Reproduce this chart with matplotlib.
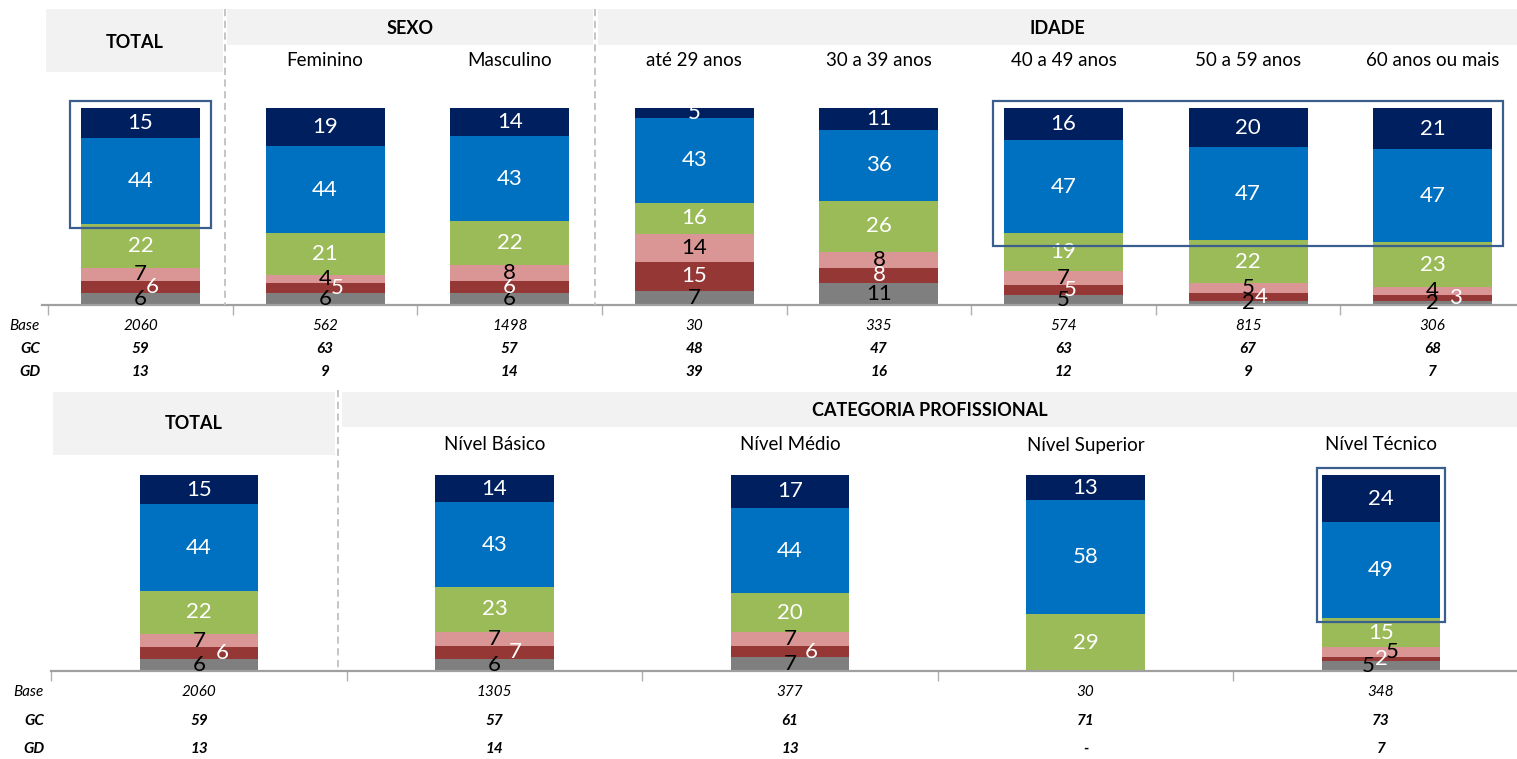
import numpy as np
import matplotlib.pyplot as plt
from matplotlib.patches import Rectangle
from matplotlib import transforms

plt.rcParams['font.family'] = ['Lato', 'DejaVu Sans']

W, H = 1517, 759

# painel de cima: total, sexo e idade
grupos_cima = ['', 'Feminino', 'Masculino', 'até 29 anos', '30 a 39 anos',
               '40 a 49 anos', '50 a 59 anos', '60 anos ou mais']
cinza_cima = [6, 6, 6, 7, 11, 5, 2, 2]
vermelho_cima = [6, 5, 6, 15, 8, 5, 4, 3]
rosa_cima = [7, 4, 8, 14, 8, 7, 5, 4]
verde_cima = [22, 21, 22, 16, 26, 19, 22, 23]
azul_cima = [44, 44, 43, 43, 36, 47, 47, 47]
marinho_cima = [15, 19, 14, 5, 11, 16, 20, 21]
base_cima = ['2060', '562', '1498', '30', '335', '574', '815', '306']
gc_cima = ['59', '63', '57', '48', '47', '63', '67', '68']
gd_cima = ['13', '9', '14', '39', '16', '12', '9', '7']

# painel de baixo: categoria profissional
grupos_baixo = ['', 'Nível Básico', 'Nível Médio', 'Nível Superior', 'Nível Técnico']
cinza_baixo = [6, 6, 7, 0, 5]
vermelho_baixo = [6, 7, 6, 0, 2]
rosa_baixo = [7, 7, 7, 0, 5]
verde_baixo = [22, 23, 20, 29, 15]
azul_baixo = [44, 43, 44, 58, 49]
marinho_baixo = [15, 14, 17, 13, 24]
base_baixo = ['2060', '1305', '377', '30', '348']
gc_baixo = ['59', '57', '61', '71', '73']
gd_baixo = ['13', '14', '13', '-', '7']

cores = ['#7F7F7F', '#953735', '#D99694', '#9BBB59', '#0070C0', '#001F5F']
cor_texto = ['black', 'white', 'black', 'white', 'white', 'white']

# deslocamentos (px) dos rotulos pequenos, como no original
ajuste_cima = {(0, 1): 12, (1, 1): 12, (5, 1): 7, (6, 1): 13, (7, 1): 23}
ajuste_baixo = {(0, 1): 23, (1, 1): 21, (2, 1): 21, (4, 0): -13, (4, 2): 11}

fig = plt.figure(figsize=(W / 100, H / 100), dpi=100)


def fx(px):
    return px / W


def fy(py):
    return 1 - py / H


def painel(esq, dir_, baixo, topo, centro0, passo):
    ax = fig.add_axes([fx(esq), fy(baixo), (dir_ - esq) / W, (baixo - topo) / H])
    ax.set_xlim((esq - centro0) / passo, (dir_ - centro0) / passo)
    ax.set_ylim(0, 100)
    for s in ['left', 'right', 'top']:
        ax.spines[s].set_visible(False)
    ax.spines['bottom'].set_color('#A0A0A0')
    ax.spines['bottom'].set_linewidth(1.6)
    ax.set_yticks([])
    ax.patch.set_alpha(0)
    return ax


def barras(ax, series, largura, ajustes):
    lim = ax.get_xlim()
    series = np.array(series, dtype=float)
    alt = series / series.sum(axis=0) * 100
    x = np.arange(series.shape[1])
    fundo = np.zeros(len(x))
    for k in range(len(series)):
        ax.bar(x, alt[k], largura, bottom=fundo, color=cores[k], edgecolor='none')
        for i in x:
            if series[k, i] == 0:
                continue
            tr = transforms.offset_copy(ax.transData, fig=fig, x=ajustes.get((i, k), 0), y=0, units='dots')
            ax.text(i, fundo[i] + alt[k, i] / 2, f'{series[k, i]:.0f}', transform=tr,
                    ha='center', va='center', color=cor_texto[k], fontsize=16,
                    clip_on=(k == 5))
        fundo += alt[k]
    ax.set_xticks(np.arange(-0.5, len(x) + 1, 1))
    ax.set_xticklabels([])
    ax.tick_params(axis='x', length=7, color='#B0B0B0', width=1)
    ax.set_xlim(lim)
    ax.set_ylim(0, 100)
    return x, fundo - alt[-1] - alt[-2]


def linhas(ax, x, grupos, base, gc, gd, y_grupo, y_base, y_gc, y_gd):
    tr = transforms.blended_transform_factory(ax.transData, fig.transFigure)
    for i in x:
        ax.text(i, fy(y_grupo), grupos[i], transform=tr, ha='center', va='center', fontsize=13.5)
        ax.text(i, fy(y_base), base[i], transform=tr, ha='center', va='center', fontsize=11, style='italic')
        ax.text(i, fy(y_gc), gc[i], transform=tr, ha='center', va='center', fontsize=11,
                style='italic', weight='bold')
        ax.text(i, fy(y_gd), gd[i], transform=tr, ha='center', va='center', fontsize=11,
                style='italic', weight='bold')


def caixa_cinza(x0, x1, y0, y1, titulo, ty):
    fig.patches.append(Rectangle((fx(x0), fy(y1)), (x1 - x0) / W, (y1 - y0) / H,
                                 transform=fig.transFigure, facecolor='#F2F2F2', edgecolor='none', zorder=0))
    fig.text(fx((x0 + x1) / 2), fy(ty), titulo, ha='center', va='center', fontsize=13, weight='bold')


def tracejado(x, y0, y1):
    fig.add_artist(plt.Line2D([fx(x), fx(x)], [fy(y0), fy(y1)], transform=fig.transFigure,
                              color='#C0C0C0', lw=1.3, linestyle=(0, (4, 2.5))))


def destaque(ax, i0, i1, baixo, largura, pad):
    p = pad
    r = Rectangle((i0 - largura / 2 - p, baixo - 2), (i1 - i0) + largura + 2 * p, 103.5 - baixo + 2,
                  facecolor='none', edgecolor='#3A5F8F', lw=1.6, clip_on=False, zorder=5)
    ax.add_patch(r)


# ---------- cabecalhos de cima ----------
caixa_cinza(46, 223, 9, 72, 'TOTAL', 43)
caixa_cinza(227, 593, 9, 45, 'SEXO', 28)
caixa_cinza(598, W, 9, 45, 'IDADE', 28)
tracejado(225, 9, 305)
tracejado(595, 9, 305)

ax1 = painel(42, W, 305, 108, 140.5, 184.6)
series_cima = [cinza_cima, vermelho_cima, rosa_cima, verde_cima, azul_cima, marinho_cima]
x1, base_azul1 = barras(ax1, series_cima, 0.645, ajuste_cima)
linhas(ax1, x1, grupos_cima, base_cima, gc_cima, gd_cima, 61, 326, 349, 372)
destaque(ax1, 0, 0, base_azul1[0], 0.645, 0.06)
destaque(ax1, 5, 7, base_azul1[5:].min(), 0.645, 0.06)

# ---------- cabecalhos de baixo ----------
caixa_cinza(53, 335, 392, 455, 'TOTAL', 424)
caixa_cinza(342, W, 392, 427, 'CATEGORIA PROFISSIONAL', 411)
tracejado(338, 390, 668)

ax2 = painel(51, W, 671, 475, 199, 295.5)
series_baixo = [cinza_baixo, vermelho_baixo, rosa_baixo, verde_baixo, azul_baixo, marinho_baixo]
x2, base_azul2 = barras(ax2, series_baixo, 0.4, ajuste_baixo)
linhas(ax2, x2, grupos_baixo, base_baixo, gc_baixo, gd_baixo, 445, 692, 721, 749)
destaque(ax2, 4, 4, base_azul2[4], 0.4, 0.018)

for y_b, y_c, y_d, xr in [(326, 349, 372, 40), (692, 721, 749, 44)]:
    fig.text(fx(xr), fy(y_b), 'Base', ha='right', va='center', fontsize=11, style='italic')
    fig.text(fx(xr), fy(y_c), 'GC', ha='right', va='center', fontsize=11, style='italic', weight='bold')
    fig.text(fx(xr), fy(y_d), 'GD', ha='right', va='center', fontsize=11, style='italic', weight='bold')

fig.savefig('out.png', dpi=100)
